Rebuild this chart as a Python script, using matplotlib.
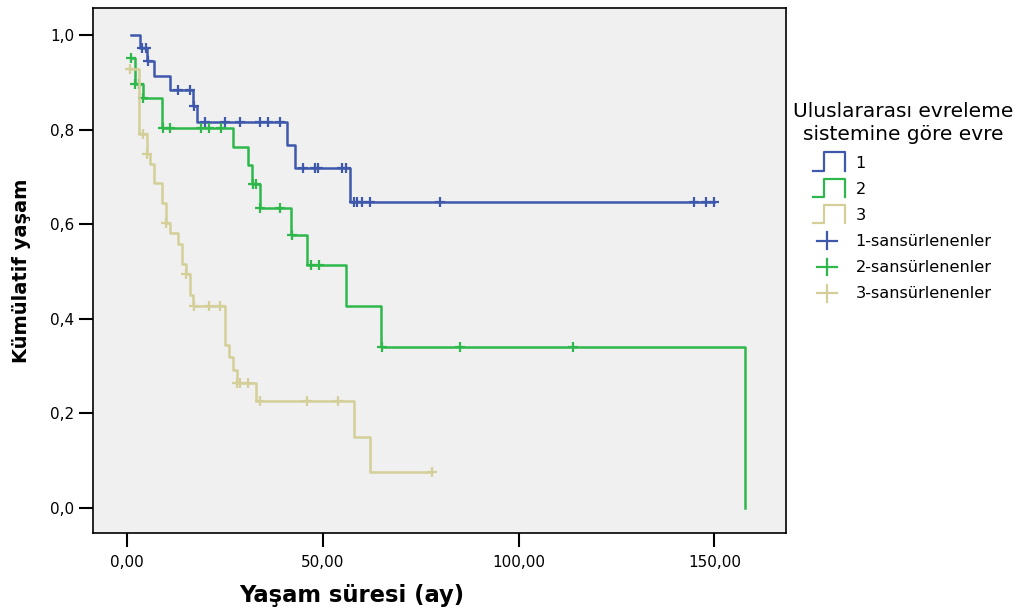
import numpy as np
import matplotlib
matplotlib.use("Agg")
import matplotlib.pyplot as plt
from matplotlib.lines import Line2D

# Kaplan-Meier step points (time in months, cumulative survival)
t1 = [0.9, 3.2, 4.9, 6.7, 11.0, 16.8, 17.9, 40.9, 42.9, 56.8, 149.9]
s1 = [1.0, 0.973, 0.944, 0.914, 0.883, 0.85, 0.815, 0.767, 0.718, 0.646, 0.646]
c1 = [3.8, 4.8, 5.2, 12.9, 16.0, 17.1, 19.8, 24.9, 28.9, 33.9, 35.9, 38.9,
      44.9, 47.9, 48.7, 54.9, 55.8, 57.8, 58.8, 59.9, 61.9, 79.8, 144.8, 147.8, 149.9]

t2 = [0.9, 1.9, 3.9, 8.9, 26.9, 30.8, 31.9, 33.9, 41.9, 45.9, 55.9, 64.9, 157.9]
s2 = [0.951, 0.897, 0.866, 0.804, 0.764, 0.725, 0.684, 0.634, 0.577, 0.513, 0.426, 0.341, 0.0]
c2 = [0.9, 2.0, 2.9, 4.0, 9.0, 10.9, 18.9, 20.8, 23.9, 32.0, 32.8, 34.0, 38.9,
      42.0, 46.9, 48.9, 65.0, 84.9, 113.9]

t3 = [0.7, 2.9, 4.9, 5.9, 6.9, 8.9, 9.8, 10.8, 12.9, 13.9, 14.9, 15.9, 16.9,
      24.9, 25.9, 26.9, 27.9, 32.9, 57.9, 62.0, 77.9]
s3 = [0.927, 0.79, 0.748, 0.727, 0.686, 0.645, 0.602, 0.581, 0.559, 0.516, 0.494,
      0.45, 0.427, 0.345, 0.32, 0.292, 0.265, 0.227, 0.150, 0.075, 0.075]
c3 = [0.7, 3.9, 5.0, 10.0, 15.0, 17.0, 20.8, 23.8, 28.0, 28.9, 30.9, 33.8,
      45.9, 53.8, 77.9]

groups = ["1", "2", "3"]
colors = ["#3E58AC", "#2EB84B", "#D4CF98"]

x_ticks = [0, 50, 100, 150]
y_ticks = [0.0, 0.2, 0.4, 0.6, 0.8, 1.0]


def surv_at(times, surv, c):
    idx = np.searchsorted(times, c, side="right") - 1
    return np.asarray(surv)[idx]


class StepHandler:
    def __init__(self, color):
        self.color = color

    def legend_artist(self, legend, orig_handle, fontsize, handlebox):
        x0, y0 = -handlebox.xdescent, -handlebox.ydescent
        w, h = handlebox.width, handlebox.height
        xs = [x0 - 0.06 * w, x0 + 0.26 * w, x0 + 0.26 * w, x0 + 0.88 * w, x0 + 0.88 * w]
        ys = [y0 - 0.3 * h, y0 - 0.3 * h, y0 + 1.35 * h, y0 + 1.35 * h, y0 - 0.3 * h]
        ln = Line2D(xs, ys, color=self.color, lw=1.6, transform=handlebox.get_transform())
        handlebox.add_artist(ln)
        return ln


class PlusHandler:
    def __init__(self, color):
        self.color = color

    def legend_artist(self, legend, orig_handle, fontsize, handlebox):
        x0, y0 = -handlebox.xdescent, -handlebox.ydescent
        w, h = handlebox.width, handlebox.height
        cx, cy = x0 + 0.37 * w, y0 + 0.45 * h
        tr = handlebox.get_transform()
        a = Line2D([cx - 0.29 * w, cx + 0.29 * w], [cy, cy], color=self.color, lw=1.6, transform=tr)
        b = Line2D([cx, cx], [cy - 0.75 * h, cy + 0.75 * h], color=self.color, lw=1.6, transform=tr)
        handlebox.add_artist(a)
        handlebox.add_artist(b)
        return a


fig = plt.figure(figsize=(10.24, 6.15), dpi=100)
ax = fig.add_axes([92.5 / 1024, 82 / 615, (786 - 92.5) / 1024, (533 - 8) / 615])
ax.set_facecolor("#F0F0F0")

data = [(t1, s1, c1), (t2, s2, c2), (t3, s3, c3)]
step_handles = []
cens_handles = []
for (t, s, c), col in zip(data, colors):
    ln, = ax.step(t, s, where="post", color=col, lw=1.8)
    ax.plot(c, surv_at(t, s, c), linestyle="none", marker="+", color=col,
            markersize=7.5, markeredgewidth=1.6)
    step_handles.append(ln)
    cens_handles.append(Line2D([], [], color=col))

ax.set_xlim(-8.9, 168.3)
ax.set_ylim(-0.053, 1.057)
ax.set_xticks(x_ticks)
ax.set_xticklabels([f"{v:.2f}".replace(".", ",") for v in x_ticks])
ax.set_yticks(y_ticks)
ax.set_yticklabels([f"{v:.1f}".replace(".", ",") for v in y_ticks])
ax.tick_params(axis="both", labelsize=11, length=10, width=1.5, direction="out")
ax.tick_params(axis="y", pad=3)
ax.tick_params(axis="x", pad=6)
for sp in ax.spines.values():
    sp.set_linewidth(1.2)

ax.set_xlabel("Yaşam süresi (ay)", fontsize=16.3, fontweight="bold")
ax.xaxis.set_label_coords((351.5 - 92.5) / 693.5, -0.097)
ax.set_ylabel("Kümülatif yaşam", fontsize=14, fontweight="bold")
ax.yaxis.set_label_coords(-0.088, 0.5)

handler_map = {}
for h, col in zip(step_handles, colors):
    handler_map[h] = StepHandler(col)
for h, col in zip(cens_handles, colors):
    handler_map[h] = PlusHandler(col)

labels = groups + [f"{g}-sansürlenenler" for g in groups]
leg = ax.legend(step_handles + cens_handles, labels, handler_map=handler_map,
                title="Uluslararası evreleme\nsistemine göre evre",
                loc="upper left", bbox_to_anchor=(793 / 1024, 1 - 102 / 615),
                bbox_transform=fig.transFigure, frameon=False, borderpad=0,
                fontsize=11.6, title_fontsize=14.5, handlelength=2.11,
                handletextpad=0.43, labelspacing=0.69, borderaxespad=0)
leg.get_title().set_linespacing(1.3)
leg.get_title().set_multialignment("center")

plt.savefig("out.png", dpi=100)
